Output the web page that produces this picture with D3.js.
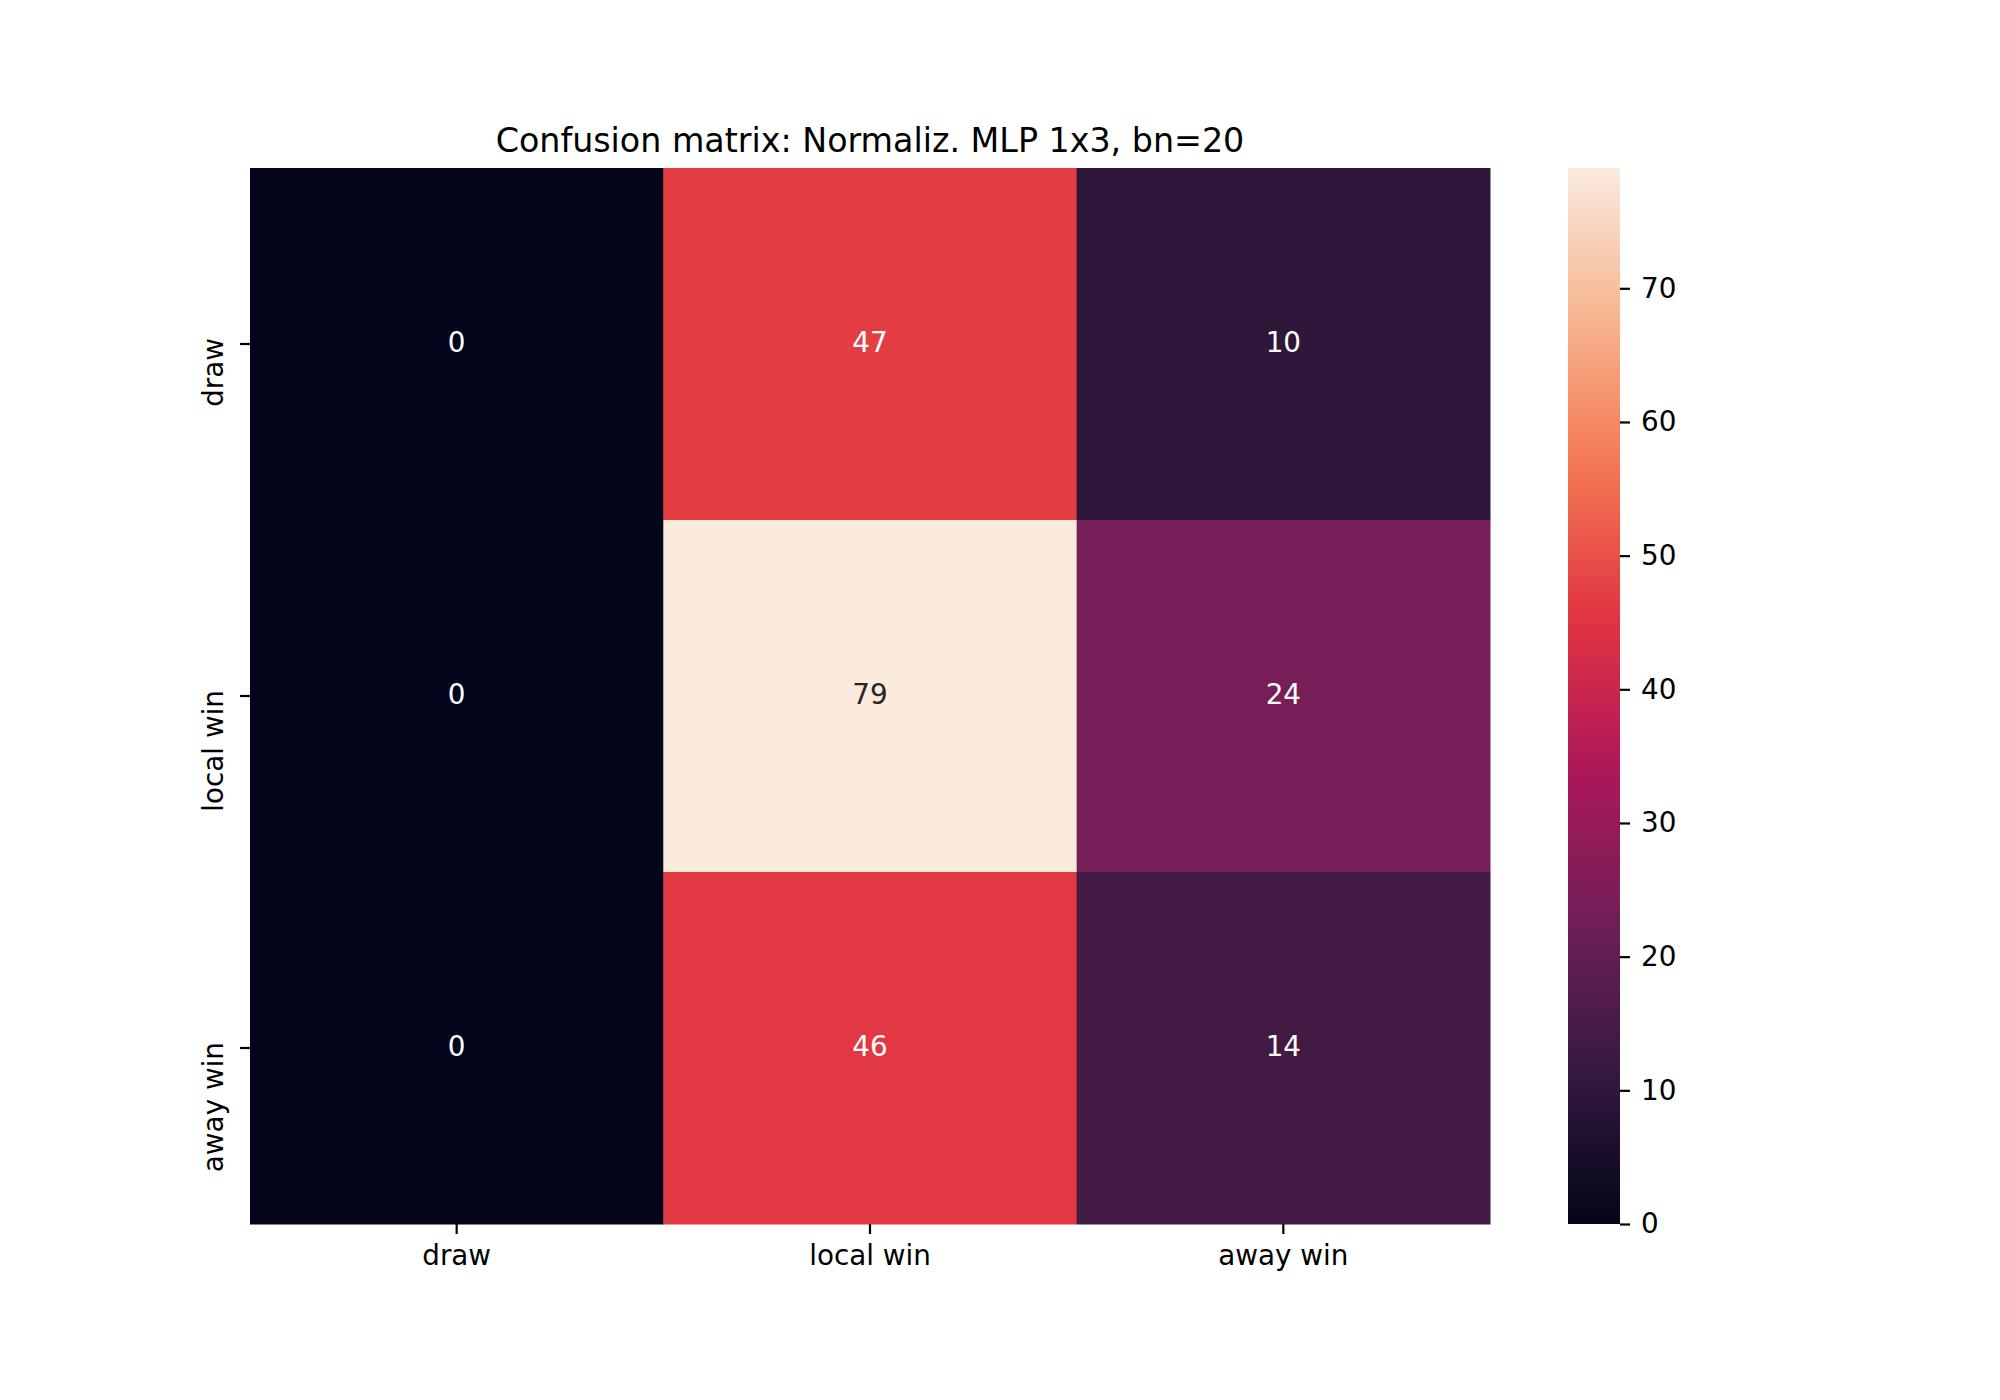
<!DOCTYPE html>
<html>
<head>
<meta charset="utf-8">
<script src="https://cdn.jsdelivr.net/npm/d3@7"></script>
<style>
  body { margin: 0; background: #fff; }
  svg { display: block; font-family: "DejaVu Sans", sans-serif; }
</style>
</head>
<body>
<div id="chart"></div>
<script>
// Confusion matrix heatmap (seaborn-style, "rocket" colormap).

const rowLabels = ["draw", "local win", "away win"];
const colLabels = ["draw", "local win", "away win"];
const matrix = [
  [0, 47, 10],
  [0, 79, 24],
  [0, 46, 14],
];
const colorbarTicks = [0, 10, 20, 30, 40, 50, 60, 70];
const title = "Confusion matrix: Normaliz. MLP 1x3, bn=20";

// rocket colormap sample points
const rocketPos = [0, 1 / 7, 2 / 7, 3 / 7, 4 / 7, 5 / 7, 6 / 7, 1];
const rocketHex = ["#03051a", "#35193e", "#701f57", "#ad1759", "#e13342", "#f37651", "#f6b48f", "#faebdd"];

(function () {
  "use strict";
  const W = 2000, H = 1400;
  const plot = { l: 250, r: 1490, t: 168, b: 1224 };
  const cbar = { l: 1568, r: 1620 };

  const svg = d3.select("#chart").append("svg").attr("width", W).attr("height", H).attr("viewBox", `0 0 ${W} ${H}`);

  const vmax = d3.max(matrix.flat());
  const vmin = d3.min(matrix.flat());
  const rocket = d3.scaleLinear().domain(rocketPos).range(rocketHex).interpolate(d3.interpolateRgb);
  const color = (v) => rocket((v - vmin) / (vmax - vmin));

  const x = d3.scaleBand().domain(colLabels).range([plot.l, plot.r]);
  const y = d3.scaleBand().domain(rowLabels).range([plot.t, plot.b]);

  const cells = [];
  matrix.forEach((row, i) => row.forEach((v, j) => cells.push({ r: rowLabels[i], c: colLabels[j], v })));

  svg.append("g").selectAll("rect").data(cells).join("rect")
    .attr("x", (d) => x(d.c)).attr("y", (d) => y(d.r))
    .attr("width", x.bandwidth() + 0.5).attr("height", y.bandwidth() + 0.5)
    .attr("fill", (d) => color(d.v));

  // annotation text color by luminance, like seaborn
  function textColor(v) {
    const c = d3.rgb(color(v));
    const lin = (u) => { u /= 255; return u <= 0.03928 ? u / 12.92 : Math.pow((u + 0.055) / 1.055, 2.4); };
    const lum = 0.2126 * lin(c.r) + 0.7152 * lin(c.g) + 0.0722 * lin(c.b);
    return lum > 0.408 ? "#262626" : "#ffffff";
  }
  svg.append("g").selectAll("text").data(cells).join("text")
    .attr("x", (d) => x(d.c) + x.bandwidth() / 2)
    .attr("y", (d) => y(d.r) + y.bandwidth() / 2)
    .attr("text-anchor", "middle").attr("dy", "0.29em")
    .style("font-size", "27.8px")
    .attr("fill", (d) => textColor(d.v))
    .text((d) => d.v);

  // axes
  const xAxis = svg.append("g").attr("transform", `translate(0,${plot.b})`)
    .call(d3.axisBottom(x).tickSize(10).tickPadding(11));
  xAxis.select(".domain").remove();
  xAxis.selectAll("line").attr("stroke", "#000").attr("stroke-width", 2.2);
  xAxis.selectAll("text").attr("fill", "#000").style("font-size", "27.8px").style("font-family", "DejaVu Sans");

  // rotated row labels hang down from their tick, as matplotlib lays them out
  const yAxis = svg.append("g").attr("transform", `translate(${plot.l},0)`)
    .call(d3.axisLeft(y).tickSize(10));
  yAxis.select(".domain").remove();
  yAxis.selectAll("line").attr("stroke", "#000").attr("stroke-width", 2.2);
  yAxis.selectAll("text")
    .attr("x", null).attr("dy", null)
    .attr("text-anchor", "end")
    .attr("transform", "translate(-27,-6) rotate(-90)")
    .attr("fill", "#000").style("font-size", "27.8px").style("font-family", "DejaVu Sans");

  // colorbar
  const defs = svg.append("defs");
  const grad = defs.append("linearGradient").attr("id", "rocket-grad")
    .attr("x1", 0).attr("y1", 1).attr("x2", 0).attr("y2", 0);
  d3.range(0, 1.0001, 0.02).forEach((t) => {
    grad.append("stop").attr("offset", t).attr("stop-color", rocket(t));
  });
  const cb = d3.scaleLinear().domain([vmin, vmax]).range([plot.b, plot.t]);
  svg.append("rect").attr("x", cbar.l).attr("y", cb(vmax))
    .attr("width", cbar.r - cbar.l).attr("height", cb(vmin) - cb(vmax))
    .attr("fill", "url(#rocket-grad)");
  const cAxis = svg.append("g").attr("transform", `translate(${cbar.r},0)`)
    .call(d3.axisRight(cb).tickValues(colorbarTicks).tickSize(10).tickPadding(11).tickFormat(d3.format("d")));
  cAxis.select(".domain").remove();
  cAxis.selectAll("line").attr("stroke", "#000").attr("stroke-width", 2.2);
  cAxis.selectAll("text").attr("fill", "#000").style("font-size", "27.8px").style("font-family", "DejaVu Sans");

  // title
  svg.append("text").attr("x", (plot.l + plot.r) / 2).attr("y", 152)
    .attr("text-anchor", "middle").style("font-size", "33.3px").attr("fill", "#000")
    .text(title);
})();
</script>
</body>
</html>
